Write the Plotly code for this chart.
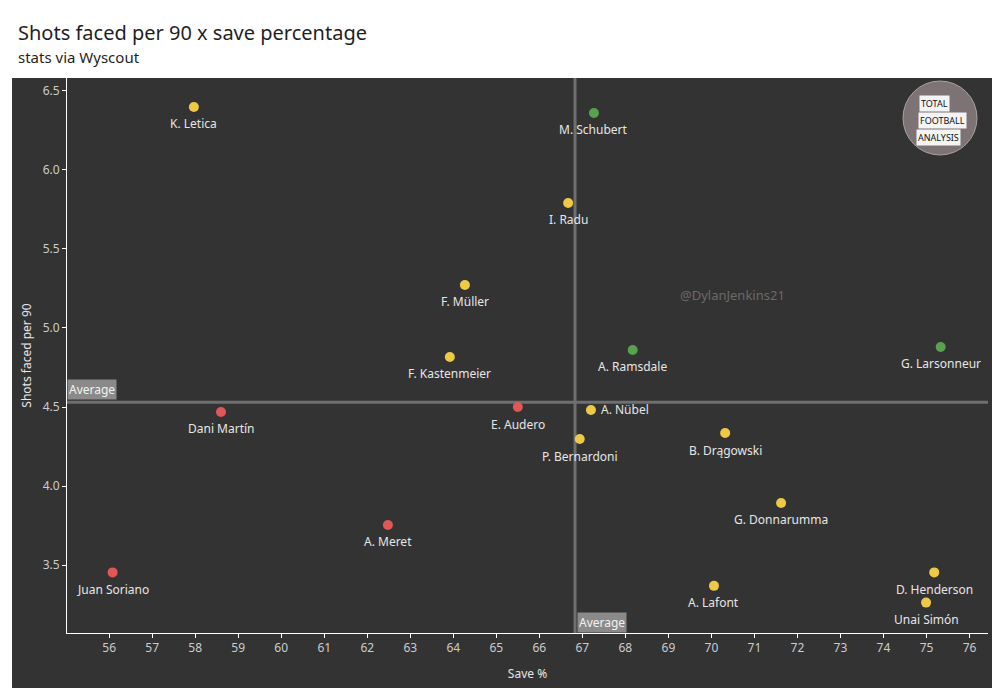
import plotly.graph_objects as go

# ---- data ----
players = ["K. Letica", "M. Schubert", "I. Radu", "F. Müller", "F. Kastenmeier",
           "A. Ramsdale", "G. Larsonneur", "Dani Martín", "E. Audero", "A. Nübel",
           "P. Bernardoni", "B. Drągowski", "G. Donnarumma", "A. Meret", "Juan Soriano",
           "A. Lafont", "D. Henderson", "Unai Simón"]
save_pct = [57.97, 67.27, 66.67, 64.27, 63.92,
            68.17, 75.33, 58.60, 65.50, 67.20,
            66.94, 70.32, 71.62, 62.48, 56.08,
            70.06, 75.18, 74.99]
shots_p90 = [6.397, 6.359, 5.79, 5.272, 4.817,
             4.861, 4.88, 4.469, 4.50, 4.482,
             4.298, 4.336, 3.894, 3.755, 3.455,
             3.37, 3.455, 3.264]
group = ["y", "g", "y", "y", "y",
         "g", "g", "r", "r", "y",
         "y", "y", "y", "r", "r",
         "y", "y", "y"]
avg_save = 66.83
avg_shots = 4.53
x_ticks = list(range(56, 77))
y_ticks = [3.5, 4.0, 4.5, 5.0, 5.5, 6.0, 6.5]

palette = {"y": "#EDC948", "g": "#59A14F", "r": "#E15759"}
FONT = "Noto Sans"
BG = "#333333"

# page offset (browser body margin)
OFF = 8
W, H = 1000 - OFF, 700 - OFF
L, R, T, B = 67 - OFF, 12, 78 - OFF, 67
pw, ph = W - L - R, H - T - B


def px(xp):  # reference-screen x pixel -> paper coord
    return (xp - OFF - L) / pw


def py(yp):  # reference-screen y pixel -> paper coord
    return 1 - (yp - OFF - T) / ph


fig = go.Figure()

# average lines
fig.add_trace(go.Scatter(x=[avg_save, avg_save], y=[3.0, 6.7], mode="lines",
                         line=dict(color="#6f6f6f", width=3), hoverinfo="skip", showlegend=False))
fig.add_trace(go.Scatter(x=[54, 78], y=[avg_shots, avg_shots], mode="lines",
                         line=dict(color="#6f6f6f", width=3), hoverinfo="skip", showlegend=False))

fig.add_trace(go.Scatter(
    x=save_pct, y=shots_p90, mode="markers",
    marker=dict(size=10, color=[palette[g] for g in group], line=dict(width=0)),
    text=players, hoverinfo="text", showlegend=False))

annotations = []
for name, xv, yv in zip(players, save_pct, shots_p90):
    if name == "A. Nübel":
        annotations.append(dict(x=xv, y=yv, xref="x", yref="y", text=name, showarrow=False,
                                xanchor="left", yanchor="middle", xshift=8,
                                font=dict(family=FONT, size=12, color="#e6e6e6")))
    else:
        annotations.append(dict(x=xv, y=yv, xref="x", yref="y", text=name, showarrow=False,
                                xanchor="center", yanchor="middle", yshift=-17,
                                font=dict(family=FONT, size=12, color="#e6e6e6")))

# Average labels
annotations.append(dict(x=0, xref="paper", y=avg_shots, yref="y", text="Average", showarrow=False,
                        xanchor="left", yanchor="bottom", yshift=2, bgcolor="#8a8a8a",
                        borderpad=1, font=dict(family=FONT, size=12, color="#f2f2f2")))
annotations.append(dict(x=avg_save, xref="x", y=0, yref="paper", text="Average", showarrow=False,
                        xanchor="left", yanchor="bottom", xshift=2, bgcolor="#8a8a8a",
                        borderpad=1, font=dict(family=FONT, size=12, color="#f2f2f2")))

# watermark
annotations.append(dict(x=70.5, y=5.21, xref="x", yref="y", text="@DylanJenkins21", showarrow=False,
                        xanchor="center", yanchor="middle",
                        font=dict(family=FONT, size=13, color="#6a6a6a")))

# title / subtitle
annotations.append(dict(x=px(16), y=py(33), xref="paper", yref="paper",
                        text="Shots faced per 90 x save percentage", showarrow=False,
                        xanchor="left", yanchor="middle",
                        font=dict(family=FONT, size=20, color="#1f1f1f")))
annotations.append(dict(x=px(16), y=py(57), xref="paper", yref="paper",
                        text="stats via Wyscout", showarrow=False,
                        xanchor="left", yanchor="middle",
                        font=dict(family=FONT, size=15, color="#1f1f1f")))

# logo approximation
cx, cy, r = 940, 118, 37
logo_words = [("TOTAL", 103, -6), ("FOOTBALL", 120, 2), ("ANALYSIS", 137, -2)]
for word, yy, dx in logo_words:
    annotations.append(dict(x=px(cx + dx), y=py(yy), xref="paper", yref="paper", text=word,
                            showarrow=False, bgcolor="#f4f4f4", borderpad=1,
                            xanchor="center", yanchor="middle",
                            font=dict(family=FONT, size=9, color="#111111")))

shapes = [
    dict(type="rect", xref="paper", yref="paper", x0=px(12), x1=px(1000), y0=py(688), y1=py(78),
         fillcolor=BG, line=dict(width=0), layer="below"),
    dict(type="circle", xref="paper", yref="paper", x0=px(cx - r), x1=px(cx + r),
         y0=py(cy + r), y1=py(cy - r), fillcolor="#7d7274", line=dict(color="#a9a1a1", width=1)),
]

fig.update_layout(
    width=W, height=H,
    margin=dict(l=L, r=R, t=T, b=B),
    paper_bgcolor="white", plot_bgcolor=BG,
    font=dict(family=FONT, color="#cccccc"),
    annotations=annotations, shapes=shapes,
    xaxis=dict(range=[55.02, 76.43], tickmode="array", tickvals=x_ticks,
               ticktext=[str(v) for v in x_ticks],
               showgrid=False, zeroline=False, showline=True, linecolor="#ffffff", linewidth=1,
               ticks="outside", ticklen=4, tickcolor="#ffffff",
               tickfont=dict(family=FONT, size=12, color="#cccccc"),
               title=dict(text="Save %", font=dict(family=FONT, size=12, color="#e6e6e6"), standoff=14)),
    yaxis=dict(range=[3.072, 6.58], tickmode="array", tickvals=y_ticks,
               ticktext=[f"{v:.1f}" for v in y_ticks],
               showgrid=False, zeroline=False, showline=True, linecolor="#ffffff", linewidth=1,
               ticks="outside", ticklen=4, tickcolor="#ffffff",
               tickfont=dict(family=FONT, size=12, color="#cccccc"),
               title=dict(text="Shots faced per 90", font=dict(family=FONT, size=12, color="#e6e6e6"), standoff=8)),
)

fig.write_html("out.html")
